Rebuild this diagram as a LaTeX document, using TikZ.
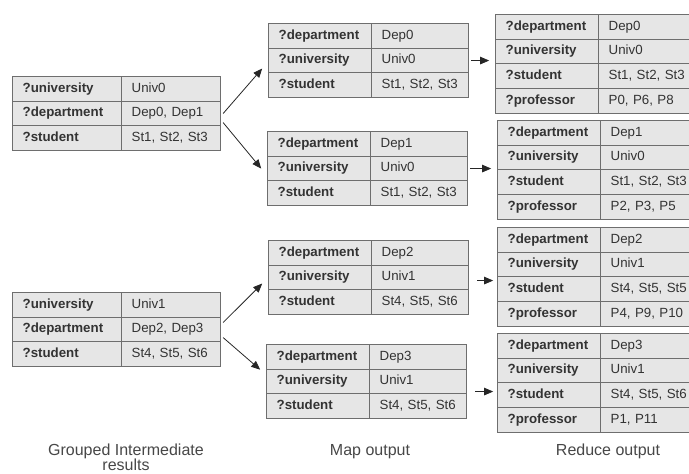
\documentclass[tikz,border=0pt]{standalone}
\usepackage{fontspec}
\setmainfont{Liberation Sans}
\usetikzlibrary{matrix,arrows.meta}

\definecolor{cellfill}{HTML}{E6E6E6}
\definecolor{cellline}{HTML}{6E6E6E}
\definecolor{celltext}{HTML}{333333}

\begin{document}
\begin{tikzpicture}[x=1pt, y=-1pt,
	tbl/.style={matrix of nodes, anchor=north west, inner sep=0pt,
		row sep=-0.9pt, column sep=-0.9pt,
		nodes={draw=cellline, fill=cellfill, line width=0.9pt, text=celltext,
			inner xsep=10pt, inner ysep=0pt, minimum height=24.6pt,
			text height=9.6pt, text depth=2.8pt, align=left,
			font=\fontsize{13.3}{15}\selectfont}},
	grp/.style={tbl,
		column 1/.style={nodes={text width=89pt, font=\bfseries\fontsize{13.3}{15}\selectfont}},
		column 2/.style={nodes={text width=79pt}}},
	map/.style={tbl,
		column 1/.style={nodes={text width=83pt, font=\bfseries\fontsize{13.3}{15}\selectfont}},
		column 2/.style={nodes={text width=77pt}}},
	red/.style={tbl,
		column 1/.style={nodes={text width=83pt, font=\bfseries\fontsize{13.3}{15}\selectfont}},
		column 2/.style={nodes={text width=92pt}}},
	conn/.style={-{Triangle[length=9pt,width=7.5pt]}, line width=0.8pt, draw=black!85},
	caption/.style={align=center, text=black!72, inner sep=0pt, font=\fontsize{16}{15.5}\selectfont}]

    \useasboundingbox (0,0) rectangle (689,474);

    % grouped intermediate results
    \matrix[grp] (gA) at (12,76) {
	?university & Univ0 \\
	?department & Dep0, Dep1 \\
	?student & St1, St2, St3 \\
    };
    \matrix[grp] (gB) at (12,292) {
	?university & Univ1 \\
	?department & Dep2, Dep3 \\
	?student & St4, St5, St6 \\
    };

    % map output
    \matrix[map] (mA) at (268,23) {
	?department & Dep0 \\
	?university & Univ0 \\
	?student & St1, St2, St3 \\
    };
    \matrix[map] (mB) at (267,131) {
	?department & Dep1 \\
	?university & Univ0 \\
	?student & St1, St2, St3 \\
    };
    \matrix[map] (mC) at (268,240) {
	?department & Dep2 \\
	?university & Univ1 \\
	?student & St4, St5, St6 \\
    };
    \matrix[map] (mD) at (266,344) {
	?department & Dep3 \\
	?university & Univ1 \\
	?student & St4, St5, St6 \\
    };

    % reduce output
    \matrix[red] (rA) at (495,14) {
	?department & Dep0 \\
	?university & Univ0 \\
	?student & St1, St2, St3 \\
	?professor & P0, P6, P8 \\
    };
    \matrix[red] (rB) at (497,120) {
	?department & Dep1 \\
	?university & Univ0 \\
	?student & St1, St2, St3 \\
	?professor & P2, P3, P5 \\
    };
    \matrix[red] (rC) at (497,227) {
	?department & Dep2 \\
	?university & Univ1 \\
	?student & St4, St5, St5 \\
	?professor & P4, P9, P10 \\
    };
    \matrix[red] (rD) at (497,333) {
	?department & Dep3 \\
	?university & Univ1 \\
	?student & St4, St5, St6 \\
	?professor & P1, P11 \\
    };

    % group -> map
    \draw[conn] ([xshift=2pt]gA-2-2.east) -- ([xshift=-6pt,yshift=-8pt]mA-2-1.west);
    \draw[conn] ([xshift=2pt,yshift=-9pt]gA-2-2.east) -- ([xshift=-6pt]mB-2-1.west);
    \draw[conn] ([xshift=2pt,yshift=7pt]gB-2-2.east) -- ([xshift=-6pt,yshift=-6pt]mC-2-1.west);
    \draw[conn] ([xshift=2pt,yshift=-8pt]gB-2-2.east) -- ([xshift=-6pt]mD-1-1.south west);

    % map -> reduce
    \draw[conn] ([xshift=2pt]mA-2-2.east) -- ([xshift=-6pt]mA-2-2.east -| rA-2-1.west);
    \draw[conn] ([xshift=2pt]mB-2-2.east) -- ([xshift=-6pt]mB-2-2.east -| rB-2-1.west);
    \draw[conn] ([xshift=8pt,yshift=-3pt]mC-2-2.east) -- ([xshift=-4pt,yshift=-3pt]mC-2-2.east -| rC-2-1.west);
    \draw[conn] ([xshift=8pt,yshift=-10pt]mD-2-2.east) -- ([xshift=-4pt,yshift=-10pt]mD-2-2.east -| rD-2-1.west);

    \node[caption, anchor=base] (capM) at (370,455) {Map output};
    \node[caption, anchor=base] (capR) at (608,455) {Reduce output};
    \node[caption, anchor=base] (capG) at (126,455) {Grouped Intermediate};
    \node[caption, anchor=base] (capG2) at (126,470.5) {results};

\end{tikzpicture}
\end{document}
